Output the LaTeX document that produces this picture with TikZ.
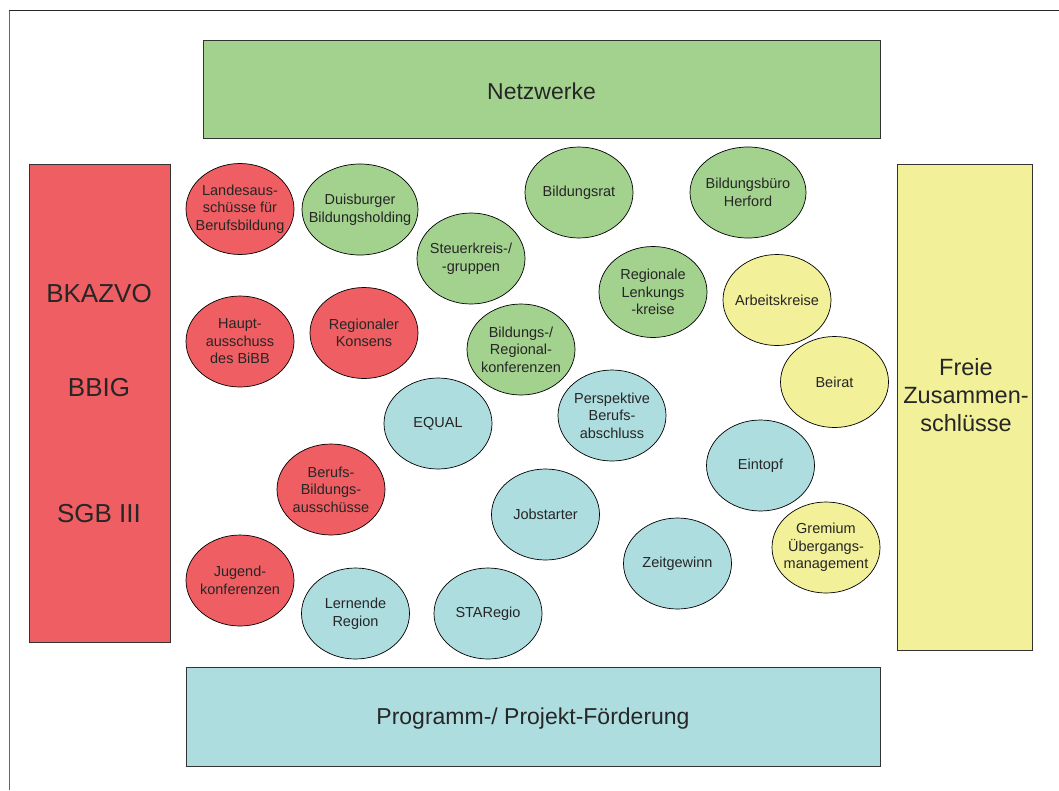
\documentclass[tikz,border=0pt]{standalone}
\usepackage{fontspec}
\setmainfont{Liberation Sans}
\usetikzlibrary{shapes.geometric}
\definecolor{rotfl}{HTML}{EF5E62}
\definecolor{gruenfl}{HTML}{A3D28F}
\definecolor{gelbfl}{HTML}{F2F098}
\definecolor{blaufl}{HTML}{AEDDE0}
\definecolor{schrift}{HTML}{262626}
\begin{document}
\begin{tikzpicture}[x=1pt,y=-1pt,
    feld/.style={draw=black!80,line width=0.9pt,inner sep=0pt,text=schrift,
      font=\fontsize{23}{28}\selectfont,align=center},
    kreis/.style={ellipse,draw=black,line width=0.7pt,inner xsep=-14pt,inner ysep=0pt,
      minimum width=108pt,minimum height=91pt,text=schrift,
      font=\fontsize{14.5}{17.5}\selectfont,align=center},
    gross/.style={text=schrift,font=\fontsize{26}{30}\selectfont}]
    \useasboundingbox (0,0) rectangle (1059,790);
    \draw[black!60,line width=1pt] (9,790)--(9,10);
    \draw[black!85,line width=1pt] (9,10)--(1059,10);
    % Rahmen
    \node[feld,fill=gruenfl,minimum width=677pt,minimum height=98pt] (netzwerke) at (541.5,89) {};
    \node[text=schrift,font=\fontsize{23}{28}\selectfont] (netzwerketext) at (541.5,91) {Netzwerke};
    \node[feld,fill=blaufl,minimum width=694pt,minimum height=99pt] (foerderung) at (533,716.5) {};
    \node[text=schrift,font=\fontsize{23}{28}\selectfont] (foerderungtext) at (533,719) {Programm-/ Projekt-F\"orderung};
    \node[feld,fill=gelbfl,minimum width=135pt,minimum height=486pt] (freie) at (964.5,407) {};
    \node[text=schrift,font=\fontsize{23.5}{28}\selectfont,align=center] (freietext) at (966,395) {Freie\\Zusammen-\\schl\"usse};
    \node[feld,fill=rotfl,minimum width=141pt,minimum height=478pt] (gesetze) at (99.5,403) {};
    \node[gross] (bkazvo) at (99,294) {BKAZVO};
    \node[gross] (bbig) at (99,388) {BBIG};
    \node[gross] (sgb) at (99,514) {SGB III};
    % Gremien
    \node[kreis,fill=rotfl] (landesausschuss) at (240,209) {Landesaus-\\sch\"usse f\"ur\\Berufsbildung};
    \node[kreis,fill=gruenfl,minimum width=116pt] (duisburg) at (360,209.5) {Duisburger\\Bildungsholding};
    \node[kreis,fill=gruenfl] (bildungsrat) at (579,192.5) {Bildungsrat};
    \node[kreis,fill=gruenfl,minimum width=116pt] (herford) at (748,192.5) {Bildungsb\"uro\\Herford};
    \node[kreis,fill=gruenfl] (steuerkreis) at (471,258.5) {Steuerkreis-/\\-gruppen};
    \node[kreis,fill=gruenfl] (lenkung) at (653,292) {Regionale\\Lenkungs\\-kreise};
    \node[kreis,fill=gelbfl] (arbeitskreise) at (777,300) {Arbeitskreise};
    \node[kreis,fill=rotfl] (hauptausschuss) at (240,341.5) {Haupt-\\ausschuss\\des BiBB};
    \node[kreis,fill=rotfl] (konsens) at (364,333) {Regionaler\\Konsens};
    \node[kreis,fill=gruenfl] (konferenzen) at (521,349.5) {Bildungs-/\\Regional-\\konferenzen};
    \node[kreis,fill=gelbfl] (beirat) at (834.5,382) {Beirat};
    \node[kreis,fill=blaufl] (equal) at (438,423.5) {EQUAL};
    \node[kreis,fill=blaufl] (perspektive) at (612,415.5) {Perspektive\\Berufs-\\abschluss};
    \node[kreis,fill=rotfl] (berufsbildung) at (331,489.5) {Berufs-\\Bildungs-\\aussch\"usse};
    \node[kreis,fill=blaufl] (eintopf) at (760.5,465.5) {Eintopf};
    \node[kreis,fill=blaufl] (jobstarter) at (545.5,514.5) {Jobstarter};
    \node[kreis,fill=blaufl] (zeitgewinn) at (677.5,563.5) {Zeitgewinn};
    \node[kreis,fill=gelbfl] (gremium) at (826,547.5) {Gremium\\\"Ubergangs-\\management};
    \node[kreis,fill=rotfl] (jugend) at (240,580.5) {Jugend-\\konferenzen};
    \node[kreis,fill=blaufl] (lernende) at (355.5,613.5) {Lernende\\Region};
    \node[kreis,fill=blaufl] (staregio) at (488,613.5) {STARegio};
\end{tikzpicture}
\end{document}
